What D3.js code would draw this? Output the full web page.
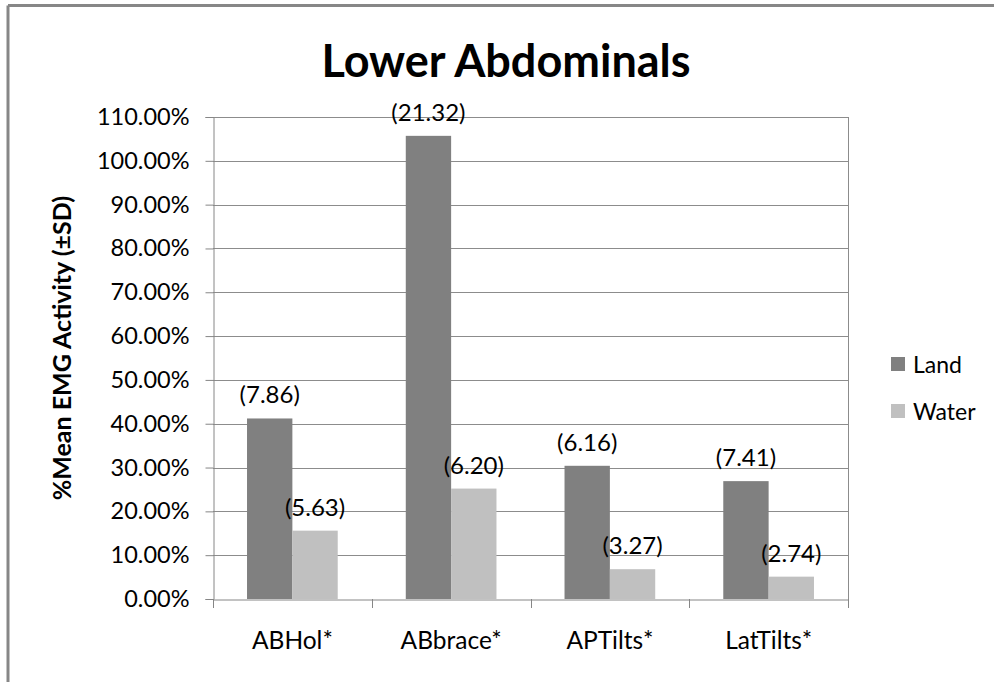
<!DOCTYPE html>
<html>
<head>
<meta charset="utf-8">
<script src="https://cdn.jsdelivr.net/npm/d3@7"></script>
<style>
  html, body { margin: 0; padding: 0; background: #fff; }
  svg { display: block; }
  text { font-family: Lato, "Open Sans", sans-serif; fill: #000; }
</style>
</head>
<body>
<svg id="chart" width="994" height="682"></svg>
<script>
const categories = ["ABHol*", "ABbrace*", "APTilts*", "LatTilts*"];
const seriesNames = ["Land", "Water"];
const landValues = [41.2, 105.7, 30.4, 26.9];
const waterValues = [15.6, 25.2, 6.8, 5.1];
const landLabels = ["(7.86)", "(21.32)", "(6.16)", "(7.41)"];
const waterLabels = ["(5.63)", "(6.20)", "(3.27)", "(2.74)"];
const yTicks = [0, 10, 20, 30, 40, 50, 60, 70, 80, 90, 100, 110];
const colors = ["#808080", "#c0c0c0"];

const svg = d3.select("#chart");
const W = 994, H = 682;
const plot = { left: 213, right: 848, top: 117, bottom: 599 };

// outer frame (top and left visible)
svg.append("line").attr("x1", 8).attr("y1", 5.5).attr("x2", W).attr("y2", 5.5)
  .attr("stroke", "#878787").attr("stroke-width", 3);
svg.append("line").attr("x1", 8).attr("y1", 5.5).attr("x2", 8).attr("y2", H)
  .attr("stroke", "#878787").attr("stroke-width", 3);

const x0 = d3.scaleBand().domain(categories).range([plot.left, plot.right]).paddingInner(0).paddingOuter(0);
const groupW = x0.bandwidth() * (2 / 3.5);
const x1 = d3.scaleBand().domain(seriesNames).range([0, groupW]).padding(0);
const y = d3.scaleLinear().domain([0, 110]).range([plot.bottom, plot.top]);

// gridlines
svg.append("g").selectAll("line").data(yTicks.filter(d => d > 0)).join("line")
  .attr("x1", plot.left).attr("x2", plot.right)
  .attr("y1", d => Math.round(y(d)) + 0.5).attr("y2", d => Math.round(y(d)) + 0.5)
  .attr("stroke", "#8c8c8c").attr("stroke-width", 1);

// right border of plot
svg.append("line").attr("x1", plot.right + 0.5).attr("x2", plot.right + 0.5)
  .attr("y1", plot.top).attr("y2", plot.bottom)
  .attr("stroke", "#8c8c8c").attr("stroke-width", 1);

// bars
const data = categories.map((c, i) => ({ cat: c, vals: [landValues[i], waterValues[i]], labels: [landLabels[i], waterLabels[i]] }));
const groups = svg.append("g").selectAll("g").data(data).join("g")
  .attr("transform", d => `translate(${x0(d.cat) + (x0.bandwidth() - groupW) / 2},0)`);
groups.selectAll("rect").data(d => d.vals.map((v, j) => ({ v, s: seriesNames[j], j }))).join("rect")
  .attr("x", d => x1(d.s)).attr("width", x1.bandwidth())
  .attr("y", d => y(d.v)).attr("height", d => y(0) - y(d.v))
  .attr("fill", d => colors[d.j]);
groups.selectAll("text").data(d => d.vals.map((v, j) => ({ v, s: seriesNames[j], t: d.labels[j] }))).join("text")
  .attr("x", d => x1(d.s) + x1.bandwidth() / 2)
  .attr("y", d => y(d.v) - 24.5)
  .attr("text-anchor", "middle").attr("dominant-baseline", "central")
  .style("font-size", "24px").text(d => d.t);

// y axis
const yAxis = d3.axisLeft(y).tickValues(yTicks).tickSize(8).tickPadding(16)
  .tickFormat(d => d.toFixed(2) + "%");
const gy = svg.append("g").attr("transform", `translate(${plot.left + 0.5},0)`).call(yAxis);
gy.selectAll("path,line").attr("stroke", "#868686");
gy.selectAll("text").style("font-size", "23.5px").style("font-family", "Lato, sans-serif");

// x axis
const xAxis = d3.axisBottom(x0).tickSize(0).tickPadding(32);
const gx = svg.append("g").attr("transform", `translate(0,${plot.bottom + 0.5})`).call(xAxis);
gx.select("path").attr("stroke", "#868686");
gx.selectAll("text").style("font-size", "24.5px").style("font-family", "Lato, sans-serif");
// category boundary ticks
svg.append("g").selectAll("line").data(categories.concat(["_end"])).join("line")
  .attr("x1", (d, i) => Math.round(plot.left + i * x0.bandwidth()) + 0.5)
  .attr("x2", (d, i) => Math.round(plot.left + i * x0.bandwidth()) + 0.5)
  .attr("y1", plot.bottom).attr("y2", plot.bottom + 9)
  .attr("stroke", "#868686");

// title
svg.append("text").attr("x", 506).attr("y", 77).attr("text-anchor", "middle")
  .style("font-size", "45px").style("font-weight", "bold").text("Lower Abdominals");

// y axis title
svg.append("text").attr("transform", `translate(71,348) rotate(-90)`)
  .attr("text-anchor", "middle")
  .style("font-size", "25px").style("font-weight", "bold")
  .text("%Mean EMG Activity (±SD)");

// legend
const lg = svg.append("g").selectAll("g").data(seriesNames).join("g")
  .attr("transform", (d, i) => `translate(891,${357 + i * 47})`);
lg.append("rect").attr("width", 14).attr("height", 14).attr("fill", (d, i) => colors[i]);
lg.append("text").attr("x", 22).attr("y", 7).attr("dominant-baseline", "central")
  .style("font-size", "23px").text(d => d);
</script>
</body>
</html>
